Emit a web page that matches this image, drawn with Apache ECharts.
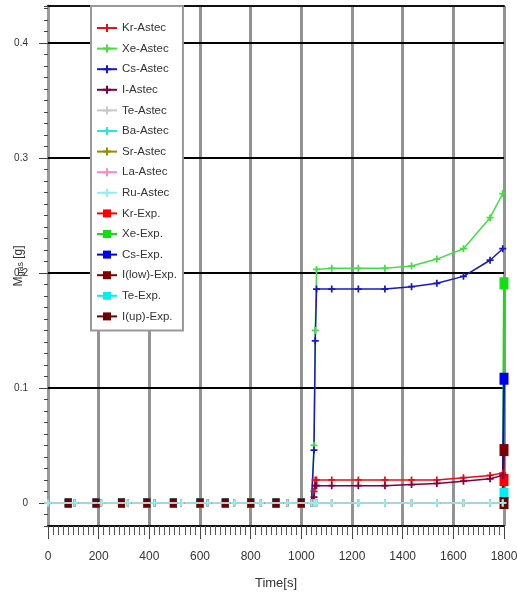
<!DOCTYPE html>
<html>
<head>
<meta charset="utf-8">
<script src="https://cdn.jsdelivr.net/npm/echarts@6/dist/echarts.min.js"></script>
<style>html,body{margin:0;padding:0;background:#fff;}#c{width:517px;height:596px;}</style>
</head>
<body>
<div id="c"></div>
<script>
// ---- data ----
const astecTime = [0,105,210,315,420,525,630,735,840,945,1040,1050,1055,1060,1120,1225,1330,1435,1535,1640,1745,1795];
const krAstec = [0,0,0,0,0,0,0,0,0,0,0,0.010,0.020,0.020,0.020,0.020,0.020,0.020,0.020,0.022,0.024,0.026];
const xeAstec = [0,0,0,0,0,0,0,0,0,0,0,0.050,0.150,0.203,0.204,0.204,0.204,0.206,0.212,0.221,0.248,0.269];
const csAstec = [0,0,0,0,0,0,0,0,0,0,0,0.046,0.141,0.186,0.186,0.186,0.186,0.188,0.191,0.197,0.211,0.221];
const iAstec  = [0,0,0,0,0,0,0,0,0,0,0,0.005,0.015,0.015,0.015,0.015,0.015,0.016,0.017,0.019,0.021,0.024];
const teAstec = [0,0,0,0,0,0,0,0,0,0,0,0,0,0,0,0,0,0,0,0,0,0];
const baAstec = [0,0,0,0,0,0,0,0,0,0,0,0,0,0,0,0,0,0,0,0,0,0];
const srAstec = [0,0,0,0,0,0,0,0,0,0,0,0,0,0,0,0,0,0,0,0,0,0];
const laAstec = [0,0,0,0,0,0,0,0,0,0,0,0,0,0,0,0,0,0,0,0,0,0];
const ruAstec = [0,0,0,0,0,0,0,0,0,0,0,0,0,0,0,0,0,0,0,0,0,0];

const expTime  = [80,190,290,390,495,600,700,800,900,1000,1795,1800];
const krExp    = [0,0,0,0,0,0,0,0,0,0,0,0.020];
const xeExp    = [0,0,0,0,0,0,0,0,0,0,0,0.191];
const csExp    = [0,0,0,0,0,0,0,0,0,0,0,0.108];
const iLowExp  = [0,0,0,0,0,0,0,0,0,0,0,0.046];
const teExp    = [0,0,0,0,0,0,0,0,0,0,0,0.008];
const iUpExp   = [0,0,0,0,0,0,0,0,0,0,0,0.000];

const yMajorTicks = [0, 0.1, 0.2, 0.3, 0.4];
const yGridLines = [0.1, 0.2, 0.3, 0.4];
const xMin = 0, xMax = 1800, xMajor = 200, xMinor = 20;
const yMin = -0.02, yMax = 0.432, yMinor = 0.01;

// ---- styles ----
const FONT = "'Liberation Sans', Arial, sans-serif";
const PLUS = 'path://M3,0H5V8H3ZM0,3H8V5H0Z';

const astecDefs = [
  ['Kr-Astec', krAstec, '#e81010'],
  ['Xe-Astec', xeAstec, '#40e040'],
  ['Cs-Astec', csAstec, '#1818c8'],
  ['I-Astec',  iAstec,  '#800040'],
  ['Te-Astec', teAstec, '#c8c8c8'],
  ['Ba-Astec', baAstec, '#20e8e8'],
  ['Sr-Astec', srAstec, '#909000'],
  ['La-Astec', laAstec, '#ff88c0'],
  ['Ru-Astec', ruAstec, '#90f0f0']
];
const expDefs = [
  ['Kr-Exp.',     krExp,   '#ff0000'],
  ['Xe-Exp.',     xeExp,   '#10e010'],
  ['Cs-Exp.',     csExp,   '#0000ee'],
  ['I(low)-Exp.', iLowExp, '#800000'],
  ['Te-Exp.',     teExp,   '#00f0f0'],
  ['I(up)-Exp.',  iUpExp,  '#700000']
];

const series = [];
astecDefs.forEach(([name, vals, color]) => {
  series.push({
    name, type: 'line', z: 3,
    data: astecTime.map((t, i) => [t, vals[i]]),
    symbol: PLUS, symbolSize: 7, showSymbol: true,
    lineStyle: { color, width: 1.5 },
    itemStyle: { color },
    animation: false
  });
});
expDefs.forEach(([name, vals, color], k) => {
  const last = expTime.length - 1;
  const s = {
    name, type: 'line', z: 2,
    data: expTime.map((t, i) => [t, vals[i]]),
    symbol: 'rect',
    symbolSize: (v, p) => (p.dataIndex === last - 1 ? 0 : (p.dataIndex === last ? [9, 12] : [7, 9])),
    lineStyle: { color, width: 2 },
    itemStyle: { color },
    animation: false
  };
  if (k === 0) {
    s.markLine = {
      silent: true, symbol: 'none', animation: false, z: 1,
      label: { show: false },
      lineStyle: { color: '#000', width: 2, type: 'solid' },
      data: yGridLines.map(v => ({ yAxis: v }))
    };
  }
  series.push(s);
});

const chart = echarts.init(document.getElementById('c'), null, { renderer: 'canvas' });
chart.setOption({
  backgroundColor: '#fff',
  animation: false,
  textStyle: { fontFamily: FONT },
  grid: { left: 48, right: 13, top: 6, bottom: 70, containLabel: false, outerBoundsMode: 'none' },
  legend: {
    orient: 'vertical', left: 91, top: 6, z: 10,
    data: astecDefs.map(d => d[0]).concat(expDefs.map(d => d[0])),
    backgroundColor: '#fff', borderColor: '#999', borderWidth: 2, borderRadius: 0,
    padding: [16, 6, 8, 5],
    itemWidth: 20, itemHeight: 10, itemGap: 8.6,
    textStyle: { fontFamily: FONT, fontSize: 11.5, color: '#333' }
  },
  xAxis: [
    {
      type: 'value', min: xMin, max: xMax, interval: xMinor, position: 'bottom',
      axisLine: { show: true, onZero: false, lineStyle: { color: '#111', width: 2 } },
      axisTick: { show: true, length: 9, lineStyle: { color: '#555', width: 1 } },
      axisLabel: { show: false }, splitLine: { show: false }
    },
    {
      type: 'value', min: xMin, max: xMax, interval: xMajor, position: 'bottom',
      axisLine: { show: false, onZero: false },
      axisTick: { show: true, length: 13, lineStyle: { color: '#444', width: 1 } },
      axisLabel: { show: true, margin: 25, fontSize: 12, color: '#333', fontFamily: FONT,
        formatter: v => String(v) },
      splitLine: { show: true, lineStyle: { color: '#939393', width: 3 } },
      name: 'Time[s]', nameLocation: 'middle', nameGap: 51, nameMoveOverlap: false,
      nameTextStyle: { fontSize: 13, color: '#333', fontFamily: FONT }
    },
    {
      type: 'value', min: xMin, max: xMax, position: 'top',
      axisLine: { show: true, onZero: false, lineStyle: { color: '#111', width: 2 } },
      axisTick: { show: false }, axisLabel: { show: false }, splitLine: { show: false }
    }
  ],
  yAxis: [
    {
      type: 'value', min: yMin, max: yMax, interval: yMinor, position: 'left',
      axisLine: { show: true, onZero: false, lineStyle: { color: '#999', width: 3 } },
      axisTick: { show: true, length: 4, lineStyle: { color: '#444', width: 1 } },
      axisLabel: { show: false }, splitLine: { show: false }
    },
    {
      type: 'value', min: yMin, max: yMax, position: 'left',
      axisLine: { show: false, onZero: false },
      axisTick: { show: true, length: 9, customValues: yMajorTicks, lineStyle: { color: '#444', width: 1 } },
      axisLabel: { show: true, customValues: yMajorTicks, margin: 20, fontSize: 10, color: '#333', fontFamily: FONT,
        formatter: v => String(+Number(v).toFixed(1)) },
      splitLine: { show: false },
      name: 'M{s|gas} [g]', nameLocation: 'middle', nameGap: 23, nameRotate: 90, nameMoveOverlap: false,
      nameTextStyle: { fontSize: 12, color: '#333', fontFamily: FONT,
        rich: { s: { fontSize: 9, color: '#333', verticalAlign: 'bottom', fontFamily: FONT } } }
    }
  ],
  series
});
</script>
</body>
</html>
